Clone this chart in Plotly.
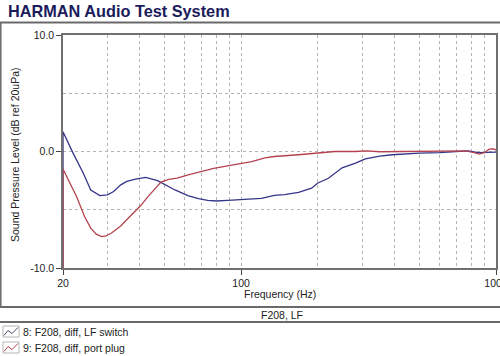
import plotly.graph_objects as go

# ---------------- data ----------------
freq_lf_switch = [20, 20, 21.9, 24, 25.7, 27.9, 29.9, 31.6, 33.7, 35.6, 38.5, 42.2, 47, 51, 55,
                  61.8, 68, 73.9, 80, 88.5, 100, 120, 135, 148, 168, 189, 200, 220, 249, 281,
                  307, 350, 392, 450, 500, 600, 700, 780, 850, 900, 950, 1000]
db_lf_switch = [-12, 1.7, -0.14, -1.85, -3.3, -3.78, -3.72, -3.43, -2.86, -2.57, -2.37, -2.23, -2.5, -2.9, -3.3,
                -3.78, -4.05, -4.2, -4.25, -4.2, -4.15, -4.03, -3.77, -3.7, -3.5, -3.15, -2.7, -2.3, -1.4, -1.0,
                -0.63, -0.4, -0.28, -0.2, -0.14, -0.1, 0.02, 0.05, -0.1, -0.1, -0.05, -0.05]

freq_port_plug = [20, 20, 22.6, 24.3, 25.7, 27, 28.4, 29.5, 31, 33.7, 36.5, 40.3, 43, 45.5, 48.5,
                  52, 56, 62, 69.6, 78, 88.5, 100, 110, 124, 135, 168, 200, 233, 280, 312,
                  350, 450, 550, 680, 760, 820, 860, 900, 940, 970, 1000]
db_port_plug = [-12, -1.5, -3.86, -5.58, -6.58, -7.1, -7.3, -7.25, -7.0, -6.4, -5.6, -4.66, -3.9, -3.3, -2.63,
                -2.4, -2.28, -2.0, -1.72, -1.45, -1.23, -1.05, -0.86, -0.55, -0.43, -0.28, -0.14, 0.0, 0.0, 0.05,
                -0.02, 0.0, 0.0, 0.05, 0.05, -0.1, -0.22, -0.1, 0.2, 0.22, 0.15]

x_tick_vals = [20, 100, 1000]
x_tick_text = ["20", "100", "1000"]
x_grid_vals = [30, 40, 50, 60, 70, 80, 90, 200, 300, 400, 500, 600, 700, 800, 900]
y_tick_vals = [-10, 0, 10]
y_tick_text = ["-10.0", "0.0", "10.0"]
y_grid_vals = [-5, 5]

series_names = ["8: F208, diff, LF switch", "9: F208, diff, port plug"]
title_text = "HARMAN Audio Test System"
x_title = "Frequency (Hz)"
y_title = "Sound Pressure Level (dB ref 20uPa)"
footer_text = "F208, LF"

# ---------------- layout geometry ----------------
W, H = 500, 356
ML, MR, MT, MB = 63, 4, 35, 88
PW, PH = W - ML - MR, H - MT - MB


def px(x):
    return (x - ML) / PW


def py(y):
    return 1 - (y - MT) / PH


BLUE = "#35358a"
RED = "#b4434f"
FONT = "Liberation Sans, Arial, sans-serif"
GRID = "#b4b4b4"

fig = go.Figure()
fig.add_trace(go.Scatter(x=freq_lf_switch, y=db_lf_switch, mode="lines",
                         line=dict(color=BLUE, width=1.3), name=series_names[0],
                         showlegend=False))
fig.add_trace(go.Scatter(x=freq_port_plug, y=db_port_plug, mode="lines",
                         line=dict(color=RED, width=1.3), name=series_names[1],
                         showlegend=False))

axis_common = dict(showline=True, linecolor="#707070", linewidth=1.5, mirror=True,
                   ticks="outside", ticklen=5, tickcolor="#444", tickwidth=1,
                   zeroline=False, automargin=False, layer="below traces",
                   ticklabeloverflow="allow",
                   tickfont=dict(family=FONT, size=10.5, color="#222"))

fig.update_layout(
    width=W, height=H, autosize=False,
    margin=dict(l=ML, r=MR, t=MT, b=MB, pad=0),
    paper_bgcolor="white", plot_bgcolor="white",
    template="none",
    showlegend=False,
    xaxis=dict(type="log", range=[1.30103, 3.0], tickmode="array",
               tickvals=x_tick_vals, ticktext=x_tick_text,
               showgrid=True, gridcolor=GRID, griddash="dot", gridwidth=1,
               minor=dict(tickmode="array", tickvals=x_grid_vals, showgrid=True,
                          gridcolor=GRID, griddash="dot", gridwidth=1, ticks=""),
               **axis_common),
    yaxis=dict(range=[-10, 10], tickmode="array",
               tickvals=y_tick_vals, ticktext=y_tick_text,
               showgrid=True, gridcolor=GRID, griddash="dot", gridwidth=1,
               minor=dict(tickmode="array", tickvals=y_grid_vals, showgrid=True,
                          gridcolor=GRID, griddash="dot", gridwidth=1, ticks=""),
               **axis_common),
)

shapes = []
# title underline
shapes.append(dict(type="line", xref="paper", yref="paper", x0=px(0), x1=px(500),
                   y0=py(22.5), y1=py(22.5), line=dict(color="#6a6a6a", width=2)))
# left frame line
shapes.append(dict(type="line", xref="paper", yref="paper", x0=px(0.8), x1=px(0.8),
                   y0=py(22.5), y1=py(307), line=dict(color="#6a6a6a", width=1.5)))
# footer band lines
for yy in (307, 322):
    shapes.append(dict(type="line", xref="paper", yref="paper", x0=px(0), x1=px(500),
                       y0=py(yy), y1=py(yy), line=dict(color="#6a6a6a", width=2)))

# legend icons
for i, (color, yc) in enumerate([("#4a4a6e", 331.5), (RED, 347.5)]):
    shapes.append(dict(type="rect", xref="paper", yref="paper",
                       x0=px(3), x1=px(19), y0=py(yc - 5.5), y1=py(yc + 5.5),
                       line=dict(color="#b5b5b5", width=1), fillcolor="rgba(0,0,0,0)"))
    pts = [(4, yc + 4), (8, yc - 1), (12, yc + 2), (18, yc - 4)]
    path = "M " + " L ".join(f"{px(a)},{py(b)}" for a, b in pts)
    shapes.append(dict(type="path", xref="paper", yref="paper", path=path,
                       line=dict(color=color, width=1)))

fig.update_layout(shapes=shapes)

ann = []
ann.append(dict(text=f"<b>{title_text}</b>", xref="paper", yref="paper",
                x=px(6), y=py(11), xanchor="left", yanchor="middle", showarrow=False,
                font=dict(family=FONT, size=16.3, color="#1b1b5c")))
ann.append(dict(text=x_title, xref="paper", yref="paper", x=px(280), y=py(294),
                xanchor="center", yanchor="middle", showarrow=False,
                font=dict(family=FONT, size=10.5, color="#222")))
ann.append(dict(text=y_title, xref="paper", yref="paper", x=px(15), y=py(155),
                xanchor="center", yanchor="middle", showarrow=False, textangle=-90,
                font=dict(family=FONT, size=10.5, color="#222")))
ann.append(dict(text=footer_text, xref="paper", yref="paper", x=px(282), y=py(314.5),
                xanchor="center", yanchor="middle", showarrow=False,
                font=dict(family=FONT, size=10.5, color="#222")))
for name, yc in zip(series_names, [331.5, 347.5]):
    ann.append(dict(text=name, xref="paper", yref="paper", x=px(21), y=py(yc),
                    xanchor="left", yanchor="middle", showarrow=False,
                    font=dict(family=FONT, size=10.5, color="#222")))
fig.update_layout(annotations=ann)

fig.write_html("out.html", config={"displayModeBar": False},
               post_script="document.body.style.margin='0';document.body.style.overflow='hidden';")
